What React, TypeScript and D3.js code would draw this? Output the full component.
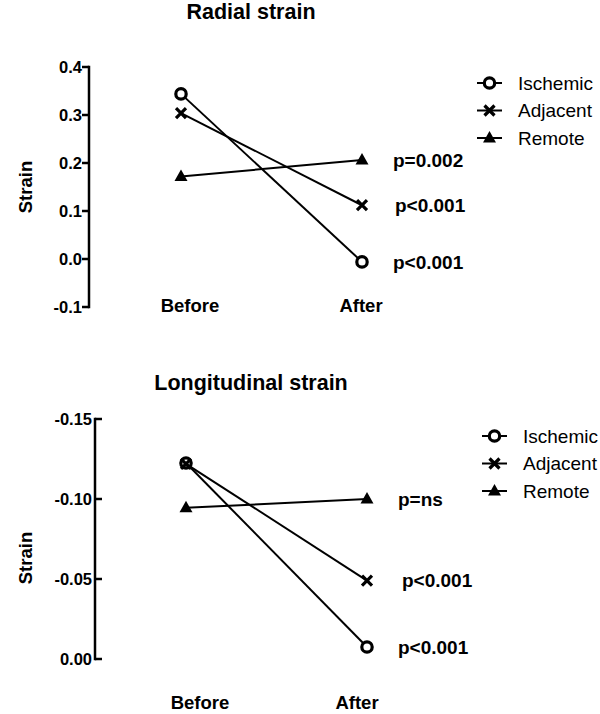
import React from "react";
import * as d3 from "d3";

const categories = ["Before", "After"];
const seriesNames = ["Ischemic", "Adjacent", "Remote"];
const radialValues = [
  [0.344, -0.006],
  [0.304, 0.112],
  [0.172, 0.206],
];
const radialP = ["p<0.001", "p<0.001", "p=0.002"];
const radialTicks = [0.4, 0.3, 0.2, 0.1, 0.0, -0.1];
const longValues = [
  [-0.1225, -0.0075],
  [-0.122, -0.049],
  [-0.0945, -0.1],
];
const longP = ["p<0.001", "p<0.001", "p=ns"];
const longTicks = [-0.15, -0.1, -0.05, 0.0];
const markerTypes = ["circle", "cross", "triangle"];

const FONT = "'Liberation Sans', Arial, Helvetica, sans-serif";

function Marker({ type, x, y }: { type: string; x: number; y: number }) {
  if (type === "circle")
    return <circle cx={x} cy={y} r={5.2} fill="white" stroke="black" strokeWidth={3.2} />;
  if (type === "cross")
    return (
      <path
        d={`M${x - 5},${y - 5}L${x + 5},${y + 5}M${x - 5},${y + 5}L${x + 5},${y - 5}`}
        stroke="black"
        strokeWidth={3.2}
      />
    );
  return (
    <path d={`M${x},${y - 7}L${x + 6.5},${y + 4.5}L${x - 6.5},${y + 4.5}Z`} fill="black" />
  );
}

interface PanelProps {
  title: string;
  titleY: number;
  values: number[][];
  pLabels: string[];
  pLabelDx: number[];
  ticks: number[];
  tickFmt: (v: number) => string;
  yDomain: [number, number];
  yRange: [number, number];
  axisX: number;
  tickDir: number;
  xRange: [number, number];
  catLabelDx: number[];
  catLabelY: number;
  legendX: number;
  legendY: number;
  strainY: number;
}

function Panel(p: PanelProps) {
  const x = d3.scalePoint<string>().domain(categories).range(p.xRange);
  const y = d3.scaleLinear().domain(p.yDomain).range(p.yRange);
  const line = d3
    .line<number>()
    .x((_, i) => x(categories[i]) as number)
    .y((v) => y(v));
  const [r0, r1] = p.yRange;
  return (
    <g fontFamily={FONT}>
      <text x={251} y={p.titleY} textAnchor="middle" fontWeight="bold" fontSize={21.5}>
        {p.title}
      </text>
      <line x1={p.axisX} x2={p.axisX} y1={Math.min(r0, r1) - 1.25} y2={Math.max(r0, r1) + 1.25} stroke="black" strokeWidth={2.5} />
      {p.ticks.map((t) => (
        <g key={t}>
          <line x1={p.axisX} x2={p.axisX + p.tickDir * 7} y1={y(t)} y2={y(t)} stroke="black" strokeWidth={2.5} />
          <text
            x={p.tickDir < 0 ? p.axisX - 7 : p.axisX - 3}
            y={y(t)}
            dy="0.36em"
            textAnchor="end"
            fontWeight="bold"
            fontSize={16.5}
          >
            {p.tickFmt(t)}
          </text>
        </g>
      ))}
      <text
        transform={`translate(${32},${p.strainY}) rotate(-90)`}
        textAnchor="middle"
        fontWeight="bold"
        fontSize={18.5}
      >
        Strain
      </text>
      {categories.map((c, i) => (
        <text key={c} x={(x(c) as number) + p.catLabelDx[i]} y={p.catLabelY} textAnchor="middle" fontWeight="bold" fontSize={18.5}>
          {c}
        </text>
      ))}
      {p.values.map((vals, si) => (
        <g key={si}>
          <path d={line(vals) || ""} fill="none" stroke="black" strokeWidth={2} />
          {vals.map((v, i) => (
            <Marker key={i} type={markerTypes[si]} x={x(categories[i]) as number} y={y(v)} />
          ))}
          <text
            x={(x(categories[1]) as number) + p.pLabelDx[si]}
            y={y(vals[1])}
            dy="0.36em"
            fontWeight="bold"
            fontSize={19}
          >
            {p.pLabels[si]}
          </text>
        </g>
      ))}
      {seriesNames.map((n, i) => {
        const ly = p.legendY + i * 27.5;
        return (
          <g key={n}>
            <line x1={p.legendX} x2={p.legendX + 25} y1={ly} y2={ly} stroke="black" strokeWidth={2} />
            <Marker type={markerTypes[i]} x={p.legendX + 12.5} y={ly} />
            <text x={p.legendX + 41} y={ly} dy="0.36em" fontSize={19}>
              {n}
            </text>
          </g>
        );
      })}
    </g>
  );
}

const fmt1 = (v: number) => d3.format(".1f")(v).replace("\u2212", "-");
const fmt2 = (v: number) => d3.format(".2f")(v).replace("\u2212", "-");

export default function App() {
  return (
    <svg width={600} height={714} style={{ position: "absolute", left: 0, top: 0, background: "white" }}>
      <rect width={600} height={714} fill="white" />
      <Panel
        title="Radial strain"
        titleY={19}
        values={radialValues}
        pLabels={radialP}
        pLabelDx={[31, 33, 31]}
        ticks={radialTicks}
        tickFmt={fmt1}
        yDomain={[-0.1, 0.4]}
        yRange={[307, 67]}
        axisX={89}
        tickDir={-1}
        xRange={[181, 362]}
        catLabelDx={[9, -1]}
        catLabelY={312}
        legendX={477}
        legendY={83}
        strainY={187}
      />
      <Panel
        title="Longitudinal strain"
        titleY={390}
        values={longValues}
        pLabels={longP}
        pLabelDx={[31, 35, 31]}
        ticks={longTicks}
        tickFmt={fmt2}
        yDomain={[0, -0.15]}
        yRange={[659, 419]}
        axisX={95}
        tickDir={1}
        xRange={[186, 367]}
        catLabelDx={[14, -10]}
        catLabelY={709}
        legendX={482}
        legendY={436}
        strainY={558}
      />
    </svg>
  );
}
